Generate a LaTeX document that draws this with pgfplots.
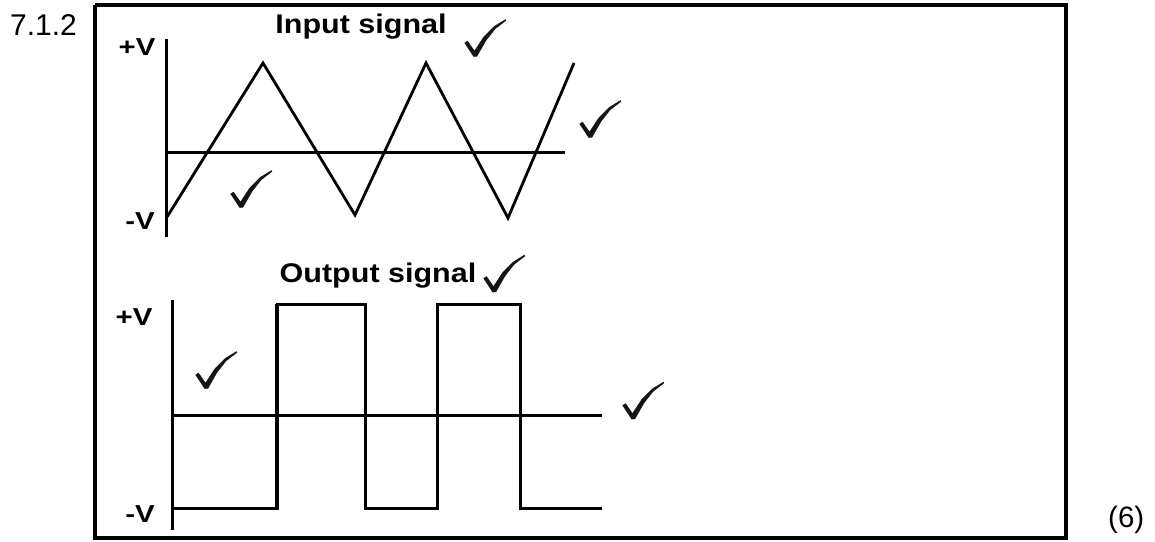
\documentclass[border=0pt]{standalone}
\usepackage{graphicx}
\usepackage{pgfplots}
\usepackage{pgfplotstable}
\pgfplotsset{compat=1.18}
\usepackage{fontspec}
\setmainfont{Liberation Sans}
\newfontfamily\arialb{Liberation Sans Bold}
% check mark outline, relative to its lowest point (y grows downwards)
\pgfplotstableread{
dx dy
-9.5 -12.5
-6.5 -14.5
0.5 -4.5
10 -19
20 -29
31.5 -36
32 -35
21 -26.5
12 -15
3 0.8
-0.5 1.2
}\checkshape
\newcommand{\tick}[2]{\addplot[fill=black!92, draw=black!92, line width=0.3pt, forget plot] table[x expr=\thisrow{dx}+#1, y expr=\thisrow{dy}+#2] {\checkshape};}
\begin{document}
\begin{tikzpicture}
\begin{axis}[
  width=1155pt, height=541pt, scale only axis,
  xmin=0, xmax=1155, ymin=0, ymax=541, y dir=reverse,
  hide axis, clip=false,
]
% full canvas (invisible)
\addplot[draw=none, forget plot] coordinates {(0,0) (1155,541)};
% frame
\addplot[black, line width=4pt] coordinates {(95,5) (1065.5,5) (1065.5,538) (95,538) (95,5)};
% top: axes
\addplot[black, line width=3pt] coordinates {(166,39) (166,237)};
\addplot[black, line width=3pt] coordinates {(166,152) (565,152)};
% triangle wave
\addplot[black, line width=2.8pt] coordinates {(167,217) (263,63) (355,215) (426,63) (508,218) (574,63)};
% bottom: axes
\addplot[black, line width=3pt] coordinates {(172,300) (172,530)};
\addplot[black, line width=3pt] coordinates {(172,415) (602,415)};
% square wave
\addplot[black, line width=3pt] coordinates {(173,508) (277,508) (277,304) (365,304) (365,508) (437,508) (437,304) (520,304) (520,508) (602,508)};
\addplot[black, line width=4.5pt] coordinates {(277,508) (277,304)};
% check marks
\tick{474}{55.5}
\tick{589}{136.5}
\tick{240}{206.5}
\tick{493}{291}
\tick{205}{387.5}
\tick{632}{418}
% texts
\node[anchor=base west, inner sep=0, font=\fontsize{30}{34}\selectfont] at (axis cs:10,35) {7.1.2};
\node[anchor=base west, inner sep=0, font=\fontsize{29.5}{34}\selectfont] at (axis cs:1108,527) {(6)};
\node[anchor=base, inner sep=0, font=\fontsize{27}{30}\arialb] at (axis cs:361,33) {\scalebox{1.13}[1]{Input signal}};
\node[anchor=base, inner sep=0, font=\fontsize{27}{30}\arialb] at (axis cs:378,282) {\scalebox{1.13}[1]{Output signal}};
\node[anchor=base, inner sep=0, font=\fontsize{24.5}{28}\arialb] at (axis cs:137,55) {\scalebox{1.2}[1]{+V}};
\node[anchor=base, inner sep=0, font=\fontsize{24.5}{28}\arialb] at (axis cs:140,229) {\scalebox{1.2}[1]{-V}};
\node[anchor=base, inner sep=0, font=\fontsize{24.5}{28}\arialb] at (axis cs:134,325) {\scalebox{1.2}[1]{+V}};
\node[anchor=base, inner sep=0, font=\fontsize{24.5}{28}\arialb] at (axis cs:140,522) {\scalebox{1.2}[1]{-V}};
\end{axis}
\end{tikzpicture}
\end{document}
